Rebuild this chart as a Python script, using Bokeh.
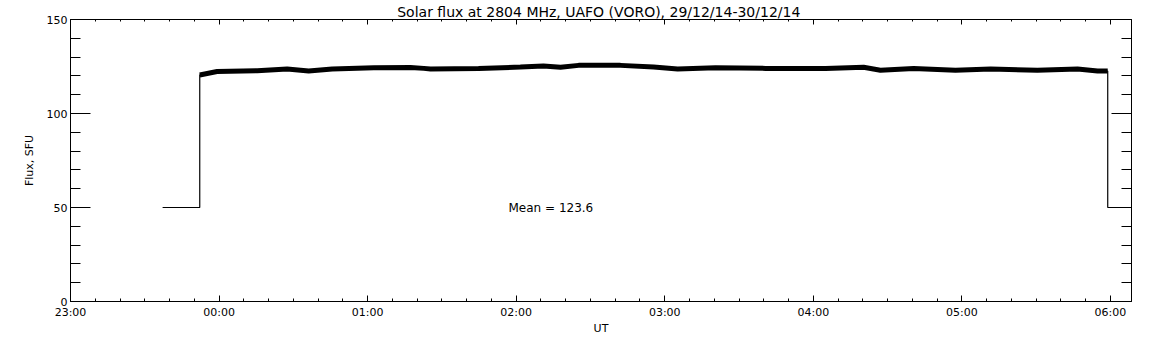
import numpy as np
from bokeh.plotting import figure
from bokeh.models import LinearAxis, FixedTicker, Range1d, Label
from bokeh.embed import file_html
from bokeh.resources import INLINE

# ---------------- data ----------------
# time in minutes after 00:00 UT on 30/12/14 (negative values: 29/12/14)
time_min = [-22.8, -7.8, -7.8, -0.8, 15.4, 27.5, 36.2, 45.7, 62.5, 77.3,
            82.7, 85.4, 104.8, 121.7, 131.0, 137.9, 145.2, 162.1, 175.5,
            185.2, 200.5, 220.7, 244.9, 260.3, 267.1, 280.5, 297.4, 311.6,
            330.5, 346.7, 354.8, 358.9, 358.9, 368.5]
flux_sfu = [50.0, 50.0, 120.5, 122.3, 122.8, 123.7, 122.6, 123.7, 124.4, 124.5,
            124.0, 123.7, 124.0, 124.7, 125.3, 124.6, 125.6, 125.6, 124.7,
            123.7, 124.4, 124.0, 123.9, 124.6, 123.0, 124.0, 123.0, 123.7,
            123.0, 123.7, 122.6, 122.6, 50.0, 50.0]

x_tick_hours = [23, 24, 25, 26, 27, 28, 29, 30]
x_tick_labels = ["23:00", "00:00", "01:00", "02:00", "03:00", "04:00", "05:00", "06:00"]
y_ticks = [0, 50, 100, 150]
y_tick_labels = ["0", "50", "100", "150"]

title_text = "Solar flux at 2804 MHz, UAFO (VORO),  29/12/14-30/12/14"
mean_text = "Mean =  123.6"
x_label = "UT"
y_label = "Flux, SFU"

# ---------------- layout / style ----------------
FONT = "DejaVu Sans"
x_start, x_end = 23.0, 24 + 368.5 / 60.0
mean_pos = (24 + 116.9 / 60.0, 50.0)

hours = 24 + np.array(time_min) / 60.0
flux = np.array(flux_sfu)
band = flux > 100

p = figure(width=1152, height=337, output_backend="svg", toolbar_location=None,
           x_range=Range1d(x_start, x_end), y_range=Range1d(0, 150),
           x_axis_location=None, y_axis_location=None,
           min_border_left=70, min_border_right=21, min_border_top=19, min_border_bottom=33)
p.xgrid.visible = False
p.ygrid.visible = False
p.outline_line_color = "black"
p.outline_line_width = 1
p.background_fill_color = "white"
p.border_fill_color = "white"

p.title.text = title_text
p.title.align = "center"
p.title.text_font = FONT
p.title.text_font_size = "14px"
p.title.text_font_style = "normal"
p.title.text_color = "black"
p.title.standoff = 0

x_minor = [23 + k / 6.0 for k in range(0, 44) if k % 6 != 0 and 23 + k / 6.0 <= x_end]
y_minor = [v for v in range(0, 151, 10) if v not in y_ticks]


def style_axis(ax, tick_major, tick_minor):
    ax.major_tick_in = tick_major
    ax.major_tick_out = 0
    ax.minor_tick_in = tick_minor
    ax.minor_tick_out = 0
    ax.axis_line_color = "black"
    ax.major_tick_line_color = "black"
    ax.minor_tick_line_color = "black"
    ax.major_label_text_font = FONT
    ax.major_label_text_font_size = "11px"
    ax.major_label_text_color = "black"
    ax.axis_label_text_font = FONT
    ax.axis_label_text_font_size = "11px"
    ax.axis_label_text_font_style = "normal"
    ax.axis_label_text_color = "black"


def hide_labels(ax):
    # mirrored axis: ticks only, labels not painted and taking ~no room
    ax.major_label_text_color = None
    ax.major_label_text_font_size = "1px"
    ax.major_label_standoff = 0


def make_xaxis(show_labels, tick_major, tick_minor):
    ax = LinearAxis(ticker=FixedTicker(ticks=x_tick_hours, minor_ticks=x_minor))
    ax.major_label_overrides = dict(zip(x_tick_hours, x_tick_labels))
    style_axis(ax, tick_major, tick_minor)
    if show_labels:
        ax.major_label_standoff = 4
        ax.axis_label = x_label
        ax.axis_label_standoff = 0
    else:
        hide_labels(ax)
    return ax


def make_yaxis(show_labels):
    ax = LinearAxis(ticker=FixedTicker(ticks=y_ticks, minor_ticks=y_minor))
    ax.major_label_overrides = dict(zip(y_ticks, y_tick_labels))
    style_axis(ax, 20, 10)
    if show_labels:
        ax.major_label_standoff = 3
        ax.axis_label = y_label
        ax.axis_label_standoff = 8
    else:
        hide_labels(ax)
    return ax


p.add_layout(make_xaxis(True, 6, 3), "below")
p.add_layout(make_xaxis(False, 5, 2), "above")
p.add_layout(make_yaxis(True), "left")
p.add_layout(make_yaxis(False), "right")

# full trace (thin) and the noisy plateau drawn as a thick band
p.line(hours, flux, line_color="black", line_width=1.2)
p.line(hours[band], flux[band], line_color="black", line_width=5, line_cap="butt")

p.add_layout(Label(x=mean_pos[0], y=mean_pos[1], text=mean_text, text_font=FONT,
                   text_font_size="12px", text_color="black", text_baseline="alphabetic"))

open("out.html", "w").write(file_html(p, INLINE))
